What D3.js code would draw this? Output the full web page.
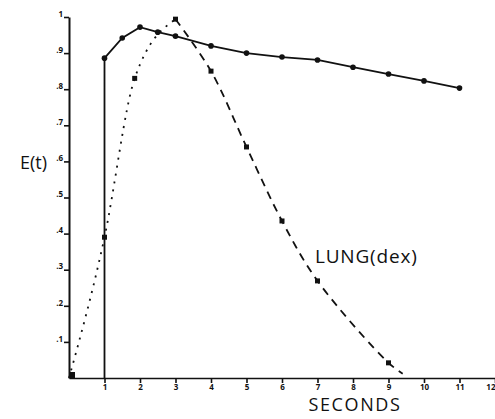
<!DOCTYPE html>
<html><head><meta charset="utf-8">
<script src="https://cdn.jsdelivr.net/npm/d3@7"></script>
<style>
html,body{margin:0;padding:0;background:#fff;}
svg{display:block;}
text{font-family:"Open Sans","DejaVu Sans",sans-serif;fill:#111;}
</style></head>
<body><svg id="c" width="495" height="419"></svg>
<script>
// ---- data ----
const xTicks = [1,2,3,4,5,6,7,8,9,10,11,12];
const xTickLabels = ["1","2","3","4","5","6","7","8","9","10","11","12"];
const yTicks = [0.1,0.2,0.3,0.4,0.5,0.6,0.7,0.8,0.9,1.0];
const yTickLabels = [".1",".2",".3",".4",".5",".6",".7",".8",".9","1"];

// solid series (E(t)), starts with a jump at t = 1
const solidT = [1, 1, 1.5, 2, 2.5, 3, 4, 5, 6, 7, 8, 9, 10, 11];
const solidV = [0, 0.886, 0.942, 0.972, 0.958, 0.947, 0.920, 0.900, 0.889, 0.881, 0.861, 0.842, 0.823, 0.803];

// dashed series LUNG(dex)
const lungT = [0, 1, 1.85, 3, 4, 5, 6, 7, 9, 9.4];
const lungV = [0, 0.39, 0.83, 0.994, 0.85, 0.64, 0.435, 0.269, 0.042, 0.012];
const lungPeakIndex = 3;

const xLabel = "SECONDS";
const yLabel = "E(t)";
const seriesLabel = "LUNG(dex)";

// ---- drawing ----
const svg = d3.select("#c");
const x = d3.scaleLinear().domain([0,12]).range([69,495]);
const y = d3.scaleLinear().domain([0,1]).range([378,17]);

// x axis
const xa = svg.append("g").attr("transform",`translate(0,${y(0)})`)
  .call(d3.axisBottom(x).tickValues(xTicks).tickFormat((d,i)=>xTickLabels[i]).tickSize(5).tickSizeOuter(0).tickPadding(1));
xa.select(".domain").attr("stroke","#111").attr("stroke-width",1.6);
xa.selectAll(".tick line").attr("stroke","#111").attr("stroke-width",1.6);
xa.selectAll(".tick text").attr("font-size",8).attr("font-weight","bold").attr("fill","#111")
  .attr("text-anchor",(d,i)=> i===xTicks.length-1 ? "end" : "middle");

// y axis
const ya = svg.append("g").attr("transform",`translate(${x(0)},0)`)
  .call(d3.axisLeft(y).tickValues(yTicks).tickFormat((d,i)=>yTickLabels[i]).tickSize(5).tickSizeOuter(0).tickPadding(1));
ya.select(".domain").attr("stroke","#111").attr("stroke-width",2);
ya.selectAll(".tick line").attr("stroke","#111").attr("stroke-width",1.6);
ya.selectAll(".tick text").attr("font-size",8).attr("font-weight","bold").attr("dy","-0.1em").attr("fill","#111");

// solid series
const solidPts = solidT.map((t,i)=>[t,solidV[i]]);
svg.append("path").datum(solidPts)
  .attr("d", d3.line().x(d=>x(d[0])).y(d=>y(d[1])))
  .attr("fill","none").attr("stroke","#111").attr("stroke-width",1.8);
svg.selectAll(".sm").data(solidPts.slice(1)).enter().append("circle")
  .attr("cx",d=>x(d[0])).attr("cy",d=>y(d[1])).attr("r",2.8).attr("fill","#111");

// lung series: rising (dotted) and falling (dashed)
const lungPts = lungT.map((t,i)=>[t,lungV[i]]);
const lcRise = d3.line().x(d=>x(d[0])).y(d=>y(d[1])).curve(d3.curveMonotoneX);
const lc = d3.line().x(d=>x(d[0])).y(d=>y(d[1])).curve(d3.curveCatmullRom.alpha(0.5));
svg.append("path").datum(lungPts.slice(0,lungPeakIndex+1))
  .attr("d", lcRise).attr("fill","none").attr("stroke","#111").attr("stroke-width",1.8)
  .attr("stroke-dasharray","2,6");
svg.append("path").datum(lungPts.slice(lungPeakIndex))
  .attr("d", lc).attr("fill","none").attr("stroke","#111").attr("stroke-width",1.8)
  .attr("stroke-dasharray","8,6");
svg.selectAll(".lm").data(lungPts.slice(1,lungPts.length-1)).enter().append("rect")
  .attr("x",d=>x(d[0])-2.5).attr("y",d=>y(d[1])-2.5).attr("width",5).attr("height",5).attr("fill","#111");
// origin marker
svg.append("rect").attr("x",x(lungT[0])).attr("y",y(lungV[0])-6).attr("width",6).attr("height",6).attr("fill","#111");

// labels
svg.append("text").attr("x",20).attr("y",169).attr("font-size",18).text(yLabel);
svg.append("text").attr("x",315).attr("y",263).attr("font-size",19).attr("letter-spacing",0.8).text(seriesLabel);
svg.append("text").attr("x",355).attr("y",411).attr("text-anchor","middle").attr("font-size",18).attr("letter-spacing",1.6).text(xLabel);
</script></body></html>
